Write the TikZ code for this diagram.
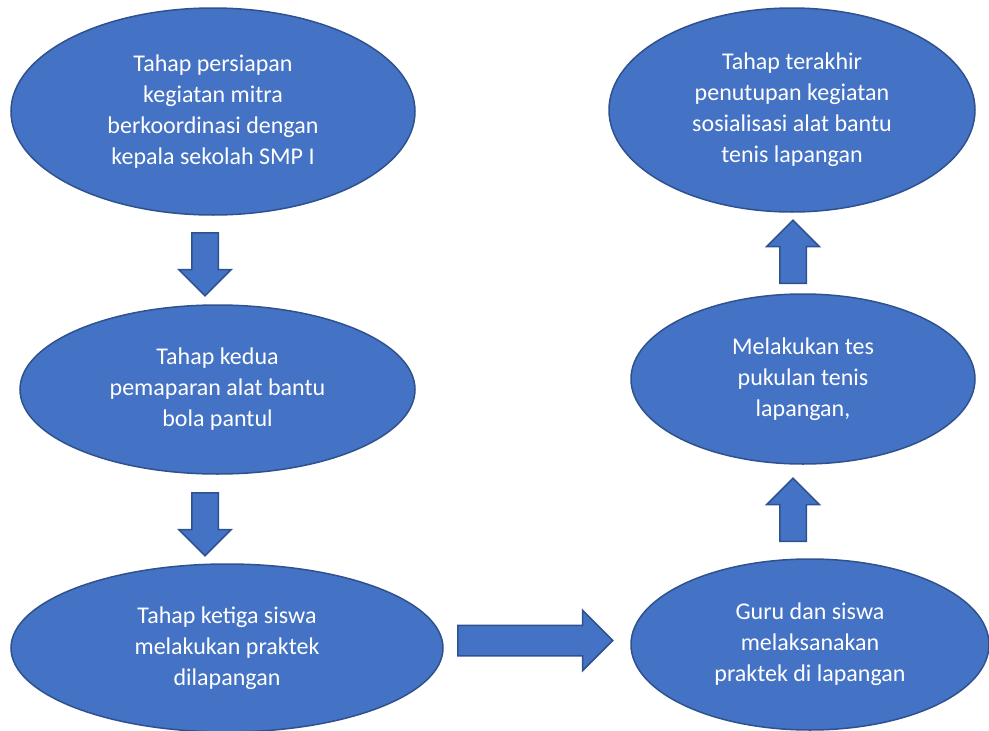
\documentclass[tikz,border=0pt]{standalone}
\usepackage{fontspec}
\setmainfont{Carlito}
\usetikzlibrary{shapes.geometric,shapes.arrows}
\definecolor{stagefill}{HTML}{4472C4}
\definecolor{stageline}{HTML}{2F528F}

\begin{document}
\begin{tikzpicture}[x=1pt, y=-1pt,
  stage/.style={ellipse, draw=stageline, fill=stagefill, line width=1.5pt,
    inner sep=0pt, text=white, align=center,
    font=\fontsize{24}{31}\selectfont},
  blockarrow/.style={single arrow, draw=stageline, fill=stagefill,
    line width=1.5pt, inner xsep=0pt, inner ysep=12.5pt, anchor=tail,
    minimum height=63pt, single arrow head extend=13pt}]
\useasboundingbox (0,0) rectangle (989,731);
\clip (0,0) rectangle (989,731);
\node[stage, minimum width=404pt, minimum height=207pt] (persiapan) at (213,111.5)
  {Tahap persiapan\\ kegiatan mitra\\ berkoordinasi dengan\\ kepala sekolah SMP I};
\node[stage, minimum width=395pt, minimum height=169pt] (kedua) at (217.5,389.5)
  {Tahap kedua\\ pemaparan alat bantu\\ bola pantul};
\node[stage, minimum width=432pt, minimum height=168pt] (ketiga) at (227,648)
  {Tahap ketiga siswa\\ melakukan praktek\\ dilapangan};
\node[stage, minimum width=358pt, minimum height=171pt] (praktek) at (810,644.5)
  {Guru dan siswa\\ melaksanakan\\ praktek di lapangan};
\node[stage, minimum width=344pt, minimum height=170pt] (tes) at (803,379)
  {Melakukan tes\\ pukulan tenis\\ lapangan,};
\node[stage, minimum width=366pt, minimum height=204pt] (penutupan) at (792,110)
  {Tahap terakhir\\ penutupan kegiatan\\ sosialisasi alat bantu\\ tenis lapangan};
\node[blockarrow, rotate=-90] (turun1) at (205,232) {};
\node[blockarrow, rotate=-90] (turun2) at (205,492) {};
\node[blockarrow, minimum height=155pt, inner ysep=14.5pt,
  single arrow head extend=15pt] (kanan) at (457,640.5) {};
\node[blockarrow, rotate=90] (naik1) at (793,542) {};
\node[blockarrow, rotate=90] (naik2) at (793,284) {};
\end{tikzpicture}
\end{document}
